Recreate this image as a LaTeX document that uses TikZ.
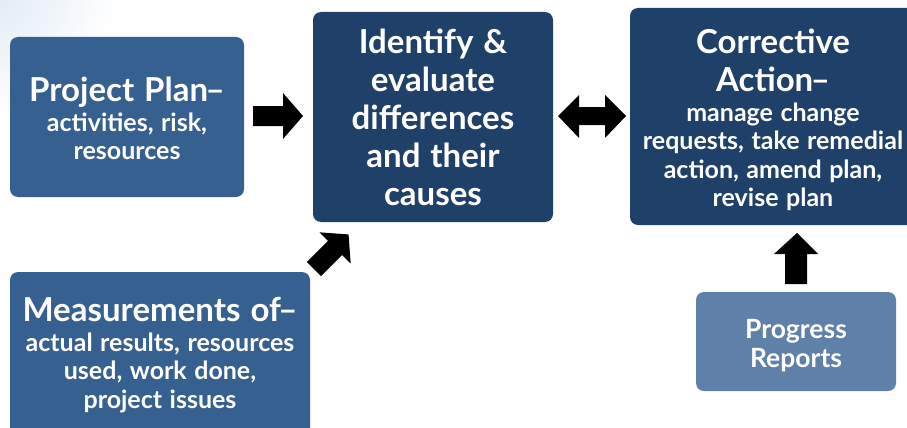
\documentclass[tikz,border=0pt]{standalone}
\usepackage{fontspec}
\setmainfont{Lato}
\definecolor{medblue}{HTML}{36608F}
\definecolor{darkblue}{HTML}{1F4169}
\definecolor{lightblue}{HTML}{5F80A9}
\definecolor{tint}{HTML}{DCE7F4}
\newcommand\ttlfont{\fontsize{33}{38}\selectfont\bfseries\spaceskip=0.3em\relax}
\newcommand\subfont{\fontsize{25}{28.5}\selectfont\bfseries\spaceskip=0.3em\relax}
\newcommand\gap{\par\vspace{1pt}}
\newcommand\dash{\kern-2.5pt–}
\tikzset{
  box/.style={rounded corners=8pt, inner sep=0pt, align=center, text=white},
  medbox/.style={box, fill=medblue},
  darkbox/.style={box, fill=darkblue},
  lightbox/.style={box, fill=lightblue},
  blockarrow/.style={fill=black},
}
\begin{document}
\begin{tikzpicture}[x=1pt,y=-1pt]
\useasboundingbox (0,0) rectangle (907,428);
\begin{scope}
\clip (0,0) rectangle (907,428);
\shade[inner color=tint, outer color=white] (-20,-20) circle (140);

\node[medbox, minimum width=234pt, minimum height=160pt, text width=230pt] (plan) at (127,117)
  {\ttlfont Project Plan\dash\gap\subfont activities, risk,\\ resources\par\vspace{-3pt}};

\node[darkbox, minimum width=240pt, minimum height=210pt, text width=236pt] (identify) at (433,117)
  {\ttlfont Identify \&\\ evaluate\\ differences\\ and their\\ causes\par};

\node[darkbox, minimum width=286pt, minimum height=217pt, text width=282pt] (corrective) at (773,116.5)
  {\ttlfont Corrective\\ Action\dash\gap\subfont manage change\\ requests, take remedial\\ action, amend plan,\\ revise plan\par\vspace{-7pt}};

\node[medbox, minimum width=300pt, minimum height=166pt, text width=296pt] (measure) at (160,355)
  {\ttlfont Measurements of\dash\gap\subfont actual results, resources\\ used, work done,\\ project issues\par};

\node[lightbox, minimum width=200pt, minimum height=99pt, text width=196pt] (progress) at (796,341.5)
  {\fontsize{26.5}{28.5}\selectfont\bfseries\spaceskip=0.3em\relax Progress\\ Reports\par\vspace{-8pt}};
\end{scope}

% right arrow: plan -> identify
\fill[blockarrow] (253,106) -- (283,106) -- (283,93) -- (303,116) -- (283,139) -- (283,126) -- (253,126) -- cycle;

% diagonal arrow: measure -> identify
\begin{scope}[shift={(333,250)}, rotate=45]
\fill[blockarrow] (-27,-10) -- (3,-10) -- (3,-22) -- (22,0) -- (3,22) -- (3,10) -- (-27,10) -- cycle;
\end{scope}

% double arrow: identify <-> corrective
\fill[blockarrow] (558,116) -- (579,95) -- (579,107) -- (605,107) -- (605,95) -- (626,116) -- (605,138) -- (605,125) -- (579,125) -- (579,138) -- cycle;

% up arrow: progress -> corrective
\fill[blockarrow] (797,233) -- (818,254) -- (807,254) -- (807,284) -- (785,284) -- (785,254) -- (774,254) -- cycle;
\end{tikzpicture}
\end{document}
